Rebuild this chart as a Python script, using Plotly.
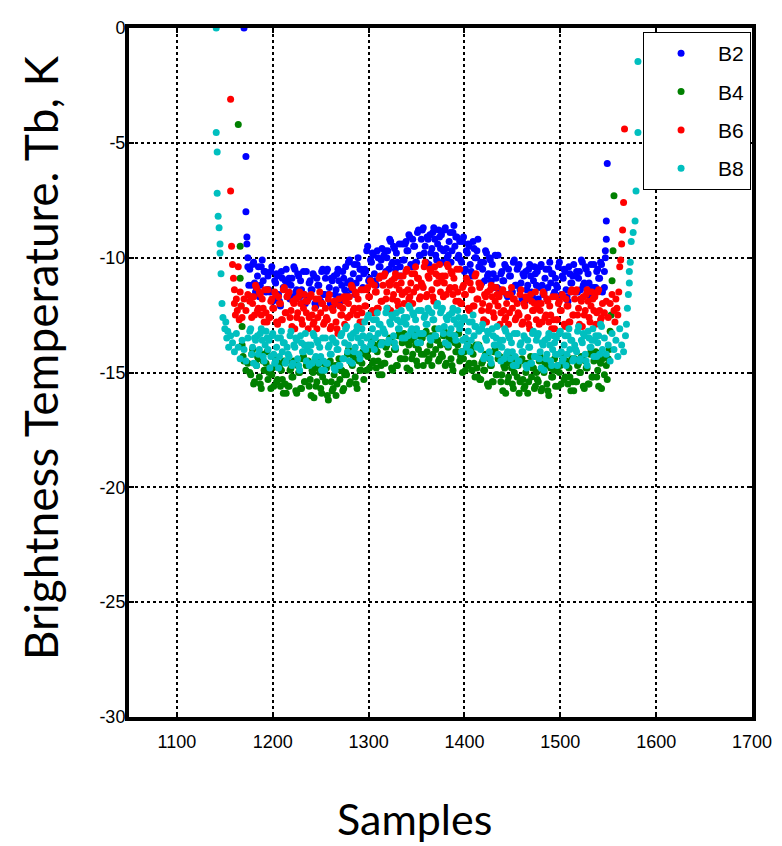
import plotly.graph_objects as go

# ---------------- data ----------------
samples_even = list(range(1176, 1545, 2))  # sample numbers 1176..1544
samples_odd = list(range(1177, 1544, 2))   # sample numbers 1177..1543

b2_even = [
    -10.5, -11.2, -10.2, -11.5, -10.8, -11.7, -10.4, -11.0, -10.6, -11.4,
    -11.4, -10.6, -11.9, -11.0, -10.7, -11.6, -12.1, -10.9, -11.3, -10.5,
    -11.1, -11.8, -10.9, -10.4, -11.5, -10.7, -11.7, -11.4, -10.6, -12.0,
    -11.8, -11.1, -11.4, -10.7, -12.0, -10.9, -11.2, -11.9, -10.5, -11.6,
    -10.6, -11.6, -12.0, -11.0, -10.8, -11.4, -10.5, -11.7, -11.2, -10.9,
    -10.4, -11.1, -10.1, -11.4, -10.7, -11.6, -10.3, -10.9, -10.5, -11.3,
    -10.5, -9.7, -11.0, -10.1, -9.8, -10.7, -11.2, -10.0, -10.4, -9.6,
    -9.9, -10.6, -9.7, -9.2, -10.3, -9.5, -10.5, -10.2, -9.4, -10.8,
    -10.1, -9.4, -9.7, -9.0, -10.3, -9.2, -9.5, -10.2, -8.8, -9.9,
    -8.8, -9.8, -10.2, -9.2, -9.0, -9.6, -8.7, -9.9, -9.4, -9.1,
    -9.0, -9.7, -8.7, -10.0, -9.3, -10.2, -8.9, -9.5, -9.1, -9.9,
    -10.1, -9.3, -10.6, -9.7, -9.4, -10.3, -10.8, -9.6, -10.0, -9.2,
    -10.4, -11.1, -10.2, -9.7, -10.8, -10.0, -11.0, -10.7, -9.9, -11.3,
    -11.4, -10.7, -11.0, -10.3, -11.6, -10.5, -10.8, -11.5, -10.1, -11.2,
    -10.4, -11.4, -11.8, -10.8, -10.6, -11.2, -10.3, -11.5, -11.0, -10.7,
    -10.6, -11.3, -10.3, -11.6, -10.9, -11.8, -10.5, -11.1, -10.7, -11.5,
    -11.2, -10.4, -11.7, -10.8, -10.5, -11.4, -11.9, -10.7, -11.1, -10.3,
    -10.8, -11.5, -10.6, -10.1, -11.2, -10.4, -11.4, -11.1, -10.3, -11.7,
    -11.3, -10.6, -10.9, -10.2, -11.5,
]
b2_odd = [
    -11.7, -10.3, -11.1, -11.4, -10.4, -11.2, -10.1, -10.6, -11.5, -10.8,
    -11.5, -10.4, -11.8, -11.1, -10.8, -11.9, -10.6, -11.3, -11.0, -11.7,
    -10.9, -11.2, -11.7, -10.5, -11.4, -10.8, -11.0, -12.0, -11.6, -10.6,
    -11.8, -11.0, -11.4, -10.8, -12.1, -11.2, -11.9, -10.6, -11.6, -10.9,
    -10.5, -11.3, -10.9, -12.1, -11.6, -10.7, -11.0, -11.9, -10.6, -11.4,
    -11.6, -10.2, -11.0, -11.3, -10.3, -11.1, -10.0, -10.5, -11.4, -10.7,
    -10.6, -9.5, -10.9, -10.2, -9.9, -11.0, -9.7, -10.4, -10.1, -10.8,
    -9.7, -10.0, -10.5, -9.3, -10.2, -9.6, -9.8, -10.8, -10.4, -9.4,
    -10.1, -9.3, -9.7, -9.1, -10.4, -9.5, -10.2, -8.9, -9.9, -9.2,
    -8.7, -9.5, -9.1, -10.3, -9.8, -8.9, -9.2, -10.1, -8.8, -9.6,
    -10.2, -8.8, -9.6, -9.9, -8.9, -9.7, -8.6, -9.1, -10.0, -9.3,
    -10.2, -9.1, -10.5, -9.8, -9.5, -10.6, -9.3, -10.0, -9.7, -10.4,
    -10.2, -10.5, -11.0, -9.8, -10.7, -10.1, -10.3, -11.3, -10.9, -9.9,
    -11.4, -10.6, -11.0, -10.4, -11.7, -10.8, -11.5, -10.2, -11.2, -10.5,
    -10.3, -11.1, -10.7, -11.9, -11.4, -10.5, -10.8, -11.7, -10.4, -11.2,
    -11.8, -10.4, -11.2, -11.5, -10.5, -11.3, -10.2, -10.7, -11.6, -10.9,
    -11.3, -10.2, -11.6, -10.9, -10.6, -11.7, -10.4, -11.1, -10.8, -11.5,
    -10.6, -10.9, -11.4, -10.2, -11.1, -10.5, -10.7, -11.7, -11.3, -10.3,
    -11.3, -10.5, -10.9, -10.3,
]
b2_edge_x = [1170, 1172, 1172, 1173, 1173, 1174, 1174, 1175,
             1546, 1546, 1547, 1547, 1548, 1548, 1549]
b2_edge_y = [0.0, -5.6, -8.0, -9.1, -9.4, -10.0, -10.4, -11.2,
             -11.3, -10.6, -10.0, -9.7, -9.2, -8.4, -5.9]

b4_even = [
    -15.0, -14.2, -15.5, -14.6, -14.3, -15.2, -15.7, -14.5, -14.9, -14.1,
    -15.0, -15.7, -14.8, -14.3, -15.4, -14.6, -15.6, -15.3, -14.5, -15.9,
    -15.6, -14.9, -15.2, -14.5, -15.8, -14.7, -15.0, -15.7, -14.3, -15.4,
    -14.6, -15.6, -16.0, -15.0, -14.8, -15.4, -14.5, -15.7, -15.2, -14.9,
    -14.8, -16.2, -14.5, -15.8, -15.1, -16.0, -14.7, -15.3, -14.9, -15.7,
    -15.0, -14.2, -15.5, -14.6, -14.3, -15.2, -15.7, -14.5, -14.9, -14.1,
    -14.2, -14.9, -14.0, -13.5, -14.6, -13.8, -14.8, -14.5, -13.7, -15.1,
    -14.6, -13.9, -14.2, -13.5, -14.8, -13.7, -14.0, -14.7, -13.3, -14.4,
    -13.4, -14.4, -14.8, -13.8, -13.6, -14.2, -13.3, -14.5, -14.0, -13.7,
    -13.5, -14.2, -13.2, -14.5, -13.8, -14.7, -13.4, -14.0, -13.6, -14.4,
    -14.2, -13.4, -14.7, -13.8, -13.5, -14.4, -14.9, -13.7, -14.1, -13.3,
    -14.3, -15.0, -14.1, -13.6, -14.7, -13.9, -14.9, -14.6, -13.8, -15.2,
    -15.3, -14.6, -14.9, -14.2, -15.5, -14.4, -14.7, -15.4, -14.0, -15.1,
    -14.4, -15.4, -15.8, -14.8, -14.6, -15.2, -14.3, -15.5, -15.0, -14.7,
    -14.7, -15.4, -14.4, -15.7, -15.0, -15.9, -14.6, -15.2, -14.8, -15.6,
    -15.3, -14.5, -15.8, -14.9, -14.6, -15.5, -16.0, -14.8, -15.2, -14.4,
    -14.9, -15.6, -14.7, -14.2, -15.3, -14.5, -15.5, -15.2, -14.4, -15.8,
    -15.4, -14.7, -15.0, -14.3, -15.6, -14.5, -14.8, -15.5, -14.1, -15.2,
    -14.2, -15.2, -15.6, -14.6, -14.4,
]
b4_odd = [
    -15.1, -14.0, -15.4, -14.7, -14.4, -15.5, -14.2, -14.9, -14.6, -15.3,
    -14.8, -15.1, -15.6, -14.4, -15.3, -14.7, -14.9, -15.9, -15.5, -14.5,
    -15.6, -14.8, -15.2, -14.6, -15.9, -15.0, -15.7, -14.4, -15.4, -14.7,
    -14.5, -15.3, -14.9, -16.1, -15.6, -14.7, -15.0, -15.9, -14.6, -15.4,
    -16.0, -14.6, -15.4, -15.7, -14.7, -15.5, -14.4, -14.9, -15.8, -15.1,
    -15.1, -14.0, -15.4, -14.7, -14.4, -15.5, -14.2, -14.9, -14.6, -15.3,
    -14.0, -14.3, -14.8, -13.6, -14.5, -13.9, -14.1, -15.1, -14.7, -13.7,
    -14.6, -13.8, -14.2, -13.6, -14.9, -14.0, -14.7, -13.4, -14.4, -13.7,
    -13.3, -14.1, -13.7, -14.9, -14.4, -13.5, -13.8, -14.7, -13.4, -14.2,
    -14.7, -13.3, -14.1, -14.4, -13.4, -14.2, -13.1, -13.6, -14.5, -13.8,
    -14.3, -13.2, -14.6, -13.9, -13.6, -14.7, -13.4, -14.1, -13.8, -14.5,
    -14.1, -14.4, -14.9, -13.7, -14.6, -14.0, -14.2, -15.2, -14.8, -13.8,
    -15.3, -14.5, -14.9, -14.3, -15.6, -14.7, -15.4, -14.1, -15.1, -14.4,
    -14.3, -15.1, -14.7, -15.9, -15.4, -14.5, -14.8, -15.7, -14.4, -15.2,
    -15.9, -14.5, -15.3, -15.6, -14.6, -15.4, -14.3, -14.8, -15.7, -15.0,
    -15.4, -14.3, -15.7, -15.0, -14.7, -15.8, -14.5, -15.2, -14.9, -15.6,
    -14.7, -15.0, -15.5, -14.3, -15.2, -14.6, -14.8, -15.8, -15.4, -14.4,
    -15.4, -14.6, -15.0, -14.4, -15.7, -14.8, -15.5, -14.2, -15.2, -14.5,
    -14.1, -14.9, -14.5, -15.7,
]
b4_edge_x = [1164, 1166, 1166, 1167, 1168, 1168, 1169, 1170, 1172, 1174,
             1546, 1548, 1549, 1550, 1551, 1552, 1553, 1554, 1555, 1556]
b4_edge_y = [-4.2, -9.5, -10.9, -12.1, -13.0, -13.8, -14.3, -14.5, -14.9, -14.6,
             -15.1, -14.7, -15.3, -14.4, -14.0, -13.2, -12.5, -11.0, -9.7, -7.3]

b6_even = [
    -11.9, -12.6, -11.7, -11.2, -12.3, -11.5, -12.5, -12.2, -11.4, -12.8,
    -12.6, -11.9, -12.2, -11.5, -12.8, -11.7, -12.0, -12.7, -11.3, -12.4,
    -11.6, -12.6, -13.0, -12.0, -11.8, -12.4, -11.5, -12.7, -12.2, -11.9,
    -11.9, -12.6, -11.6, -12.9, -12.2, -13.1, -11.8, -12.4, -12.0, -12.8,
    -12.6, -11.8, -13.1, -12.2, -11.9, -12.8, -13.3, -12.1, -12.5, -11.7,
    -11.9, -12.6, -11.7, -11.2, -12.3, -11.5, -12.5, -12.2, -11.4, -12.8,
    -12.1, -11.4, -11.7, -11.0, -12.3, -11.2, -11.5, -12.2, -10.8, -11.9,
    -10.8, -11.8, -12.2, -11.2, -11.0, -11.6, -10.7, -11.9, -11.4, -11.1,
    -10.8, -11.5, -10.5, -11.8, -11.1, -12.0, -10.7, -11.3, -10.9, -11.7,
    -11.2, -10.4, -11.7, -10.8, -10.5, -11.4, -11.9, -10.7, -11.1, -10.3,
    -11.0, -11.7, -10.8, -10.3, -11.4, -10.6, -11.6, -11.3, -10.5, -11.9,
    -12.0, -11.3, -11.6, -10.9, -12.2, -11.1, -11.4, -12.1, -10.7, -11.8,
    -11.3, -12.3, -12.7, -11.7, -11.5, -12.1, -11.2, -12.4, -11.9, -11.6,
    -11.7, -12.4, -11.4, -12.7, -12.0, -12.9, -11.6, -12.2, -11.8, -12.6,
    -12.4, -11.6, -12.9, -12.0, -11.7, -12.6, -13.1, -11.9, -12.3, -11.5,
    -12.2, -12.9, -12.0, -11.5, -12.6, -11.8, -12.8, -12.5, -11.7, -13.1,
    -12.7, -12.0, -12.3, -11.6, -12.9, -11.8, -12.1, -12.8, -11.4, -12.5,
    -11.5, -12.5, -12.9, -11.9, -11.7, -12.3, -11.4, -12.6, -12.1, -11.8,
    -11.7, -12.4, -11.4, -12.7, -12.0,
]
b6_odd = [
    -11.7, -12.0, -12.5, -11.3, -12.2, -11.6, -11.8, -12.8, -12.4, -11.4,
    -12.6, -11.8, -12.2, -11.6, -12.9, -12.0, -12.7, -11.4, -12.4, -11.7,
    -11.5, -12.3, -11.9, -13.1, -12.6, -11.7, -12.0, -12.9, -11.6, -12.4,
    -13.1, -11.7, -12.5, -12.8, -11.8, -12.6, -11.5, -12.0, -12.9, -12.2,
    -12.7, -11.6, -13.0, -12.3, -12.0, -13.1, -11.8, -12.5, -12.2, -12.9,
    -11.7, -12.0, -12.5, -11.3, -12.2, -11.6, -11.8, -12.8, -12.4, -11.4,
    -12.1, -11.3, -11.7, -11.1, -12.4, -11.5, -12.2, -10.9, -11.9, -11.2,
    -10.7, -11.5, -11.1, -12.3, -11.8, -10.9, -11.2, -12.1, -10.8, -11.6,
    -12.0, -10.6, -11.4, -11.7, -10.7, -11.5, -10.4, -10.9, -11.8, -11.1,
    -11.3, -10.2, -11.6, -10.9, -10.6, -11.7, -10.4, -11.1, -10.8, -11.5,
    -10.8, -11.1, -11.6, -10.4, -11.3, -10.7, -10.9, -11.9, -11.5, -10.5,
    -12.0, -11.2, -11.6, -11.0, -12.3, -11.4, -12.1, -10.8, -11.8, -11.1,
    -11.2, -12.0, -11.6, -12.8, -12.3, -11.4, -11.7, -12.6, -11.3, -12.1,
    -12.9, -11.5, -12.3, -12.6, -11.6, -12.4, -11.3, -11.8, -12.7, -12.0,
    -12.5, -11.4, -12.8, -12.1, -11.8, -12.9, -11.6, -12.3, -12.0, -12.7,
    -12.0, -12.3, -12.8, -11.6, -12.5, -11.9, -12.1, -13.1, -12.7, -11.7,
    -12.7, -11.9, -12.3, -11.7, -13.0, -12.1, -12.8, -11.5, -12.5, -11.8,
    -11.4, -12.2, -11.8, -13.0, -12.5, -11.6, -11.9, -12.8, -11.5, -12.3,
    -12.9, -11.5, -12.3, -12.6,
]
b6_edge_x = [1156, 1156, 1157, 1158, 1159, 1160, 1160, 1161, 1162, 1163,
             1164, 1165, 1166, 1167, 1168, 1170, 1172, 1174,
             1546, 1548, 1550, 1552, 1554, 1556, 1557, 1558, 1559, 1560,
             1561, 1562, 1563, 1564, 1565, 1566, 1567]
b6_edge_y = [-3.1, -7.1, -9.5, -10.3, -10.9, -11.4, -12.0, -12.5, -11.8, -12.3,
             -10.4, -12.7, -11.5, -12.1, -12.6, -11.8, -12.3, -11.6,
             -12.4, -11.9, -12.6, -12.0, -11.6, -12.3, -12.8, -11.8, -12.2, -12.5,
             -11.5, -10.4, -10.1, -9.4, -8.8, -7.6, -4.4]

b8_even = [
    -13.2, -14.2, -14.6, -13.6, -13.4, -14.0, -13.1, -14.3, -13.8, -13.5,
    -13.6, -14.3, -13.3, -14.6, -13.9, -14.8, -13.5, -14.1, -13.7, -14.5,
    -14.2, -13.4, -14.7, -13.8, -13.5, -14.4, -14.9, -13.7, -14.1, -13.3,
    -14.0, -14.7, -13.8, -13.3, -14.4, -13.6, -14.6, -14.3, -13.5, -14.9,
    -14.6, -13.9, -14.2, -13.5, -14.8, -13.7, -14.0, -14.7, -13.3, -14.4,
    -13.1, -14.1, -14.5, -13.5, -13.3, -13.9, -13.0, -14.2, -13.7, -13.4,
    -12.8, -13.5, -12.5, -13.8, -13.1, -14.0, -12.7, -13.3, -12.9, -13.7,
    -13.2, -12.4, -13.7, -12.8, -12.5, -13.4, -13.9, -12.7, -13.1, -12.3,
    -12.8, -13.5, -12.6, -12.1, -13.2, -12.4, -13.4, -13.1, -12.3, -13.7,
    -13.3, -12.6, -12.9, -12.2, -13.5, -12.4, -12.7, -13.4, -12.0, -13.1,
    -12.3, -13.3, -13.7, -12.7, -12.5, -13.1, -12.2, -13.4, -12.9, -12.6,
    -12.9, -13.6, -12.6, -13.9, -13.2, -14.1, -12.8, -13.4, -13.0, -13.8,
    -13.9, -13.1, -14.4, -13.5, -13.2, -14.1, -14.6, -13.4, -13.8, -13.0,
    -13.8, -14.5, -13.6, -13.1, -14.2, -13.4, -14.4, -14.1, -13.3, -14.7,
    -14.5, -13.8, -14.1, -13.4, -14.7, -13.6, -13.9, -14.6, -13.2, -14.3,
    -13.4, -14.4, -14.8, -13.8, -13.6, -14.2, -13.3, -14.5, -14.0, -13.7,
    -13.5, -14.2, -13.2, -14.5, -13.8, -14.7, -13.4, -14.0, -13.6, -14.4,
    -14.0, -13.2, -14.5, -13.6, -13.3, -14.2, -14.7, -13.5, -13.9, -13.1,
    -13.6, -14.3, -13.4, -12.9, -14.0,
]
b8_odd = [
    -13.1, -13.9, -13.5, -14.7, -14.2, -13.3, -13.6, -14.5, -13.2, -14.0,
    -14.8, -13.4, -14.2, -14.5, -13.5, -14.3, -13.2, -13.7, -14.6, -13.9,
    -14.3, -13.2, -14.6, -13.9, -13.6, -14.7, -13.4, -14.1, -13.8, -14.5,
    -13.8, -14.1, -14.6, -13.4, -14.3, -13.7, -13.9, -14.9, -14.5, -13.5,
    -14.6, -13.8, -14.2, -13.6, -14.9, -14.0, -14.7, -13.4, -14.4, -13.7,
    -13.0, -13.8, -13.4, -14.6, -14.1, -13.2, -13.5, -14.4, -13.1, -13.9,
    -14.0, -12.6, -13.4, -13.7, -12.7, -13.5, -12.4, -12.9, -13.8, -13.1,
    -13.3, -12.2, -13.6, -12.9, -12.6, -13.7, -12.4, -13.1, -12.8, -13.5,
    -12.6, -12.9, -13.4, -12.2, -13.1, -12.5, -12.7, -13.7, -13.3, -12.3,
    -13.3, -12.5, -12.9, -12.3, -13.6, -12.7, -13.4, -12.1, -13.1, -12.4,
    -12.2, -13.0, -12.6, -13.8, -13.3, -12.4, -12.7, -13.6, -12.3, -13.1,
    -14.1, -12.7, -13.5, -13.8, -12.8, -13.6, -12.5, -13.0, -13.9, -13.2,
    -14.0, -12.9, -14.3, -13.6, -13.3, -14.4, -13.1, -13.8, -13.5, -14.2,
    -13.6, -13.9, -14.4, -13.2, -14.1, -13.5, -13.7, -14.7, -14.3, -13.3,
    -14.5, -13.7, -14.1, -13.5, -14.8, -13.9, -14.6, -13.3, -14.3, -13.6,
    -13.3, -14.1, -13.7, -14.9, -14.4, -13.5, -13.8, -14.7, -13.4, -14.2,
    -14.7, -13.3, -14.1, -14.4, -13.4, -14.2, -13.1, -13.6, -14.5, -13.8,
    -14.1, -13.0, -14.4, -13.7, -13.4, -14.5, -13.2, -13.9, -13.6, -14.3,
    -13.4, -13.7, -14.2, -13.0,
]
b8_edge_x = [1141, 1141, 1142, 1142, 1143, 1144, 1145, 1145, 1146, 1147,
             1148, 1150, 1151, 1152, 1153, 1154, 1156, 1158, 1160, 1162,
             1164, 1166, 1168, 1170, 1172, 1174,
             1546, 1548, 1550, 1552, 1554, 1556, 1558, 1560, 1562, 1564,
             1566, 1568, 1569, 1570, 1571, 1572, 1572, 1573, 1574, 1576,
             1578, 1579, 1581, 1581]
b8_edge_y = [0.0, -4.55, -5.4, -7.2, -8.2, -8.7, -9.4, -9.8, -10.7, -12.0,
             -12.6, -13.1, -12.8, -13.5, -13.2, -13.9, -13.4, -13.7, -14.1, -13.3,
             -13.9, -14.4, -13.6, -14.0, -14.5, -13.5,
             -13.5, -14.2, -13.8, -14.5, -13.3, -14.0, -13.6, -14.3, -13.1, -13.8,
             -14.1, -13.4, -12.9, -12.2, -11.6, -11.1, -10.6, -10.2, -9.3, -8.9,
             -8.4, -7.1, -4.55, -1.46]

series_names = ["B2", "B4", "B6", "B8"]
series_colors = ["#0000FF", "#008000", "#FF0000", "#00BFBF"]
series_even = [b2_even, b4_even, b6_even, b8_even]
series_odd = [b2_odd, b4_odd, b6_odd, b8_odd]
series_edge_x = [b2_edge_x, b4_edge_x, b6_edge_x, b8_edge_x]
series_edge_y = [b2_edge_y, b4_edge_y, b6_edge_y, b8_edge_y]

x_ticks = [1100, 1200, 1300, 1400, 1500, 1600, 1700]
y_ticks = [-30, -25, -20, -15, -10, -5, 0]
y_tick_text = ["-30", "-25", "-20", "-15", "-10", "-5", "0"]

# ---------------- figure ----------------
TICK_FONT = "Liberation Sans Narrow, Arial Narrow, Liberation Sans, Arial, sans-serif"
TITLE_FONT = "Lato, Carlito, Calibri, sans-serif"

fig = go.Figure()
for name, color, ev, od, ex, ey in zip(series_names, series_colors, series_even,
                                       series_odd, series_edge_x, series_edge_y):
    fig.add_trace(go.Scatter(
        x=samples_even + samples_odd + ex,
        y=ev + od + ey,
        mode="markers",
        name=name,
        legendgroup=name,
        marker=dict(color=color, size=7, symbol="circle", line=dict(width=0)),
    ))

axis_common = dict(
    showline=True, linecolor="black", linewidth=4, mirror="ticks",
    ticks="inside", ticklen=5, tickwidth=2, tickcolor="black",
    showgrid=True, gridcolor="black", gridwidth=2, griddash="dot",
    zeroline=False,
    tickfont=dict(family=TICK_FONT, size=18, color="black"),
)

# the page body has an 8px default margin, so the figure is offset by it
fig.update_layout(
    width=774, height=838, autosize=False,
    margin=dict(l=121, r=27, t=10, b=129),
    paper_bgcolor="white", plot_bgcolor="white",
    xaxis=dict(range=[1050, 1700], tickvals=x_ticks, ticklabelstandoff=5,
               **axis_common),
    yaxis=dict(range=[-30, 0], tickvals=y_ticks, ticktext=y_tick_text,
               ticklabelstandoff=-4, **axis_common),
    showlegend=True,
    legend=dict(
        x=0.9985, y=0.994, xanchor="right", yanchor="top",
        bgcolor="white", bordercolor="black", borderwidth=1,
        font=dict(family=TICK_FONT, size=21, color="black"),
        itemwidth=64, tracegroupgap=8,
    ),
    annotations=[
        dict(text="Samples", xref="paper", yref="paper", x=0.4585, y=-0.147,
             xanchor="center", yanchor="middle", showarrow=False,
             font=dict(family=TITLE_FONT, size=43, color="black")),
        dict(text="Brightness Temperature. Tb, K", xref="paper", yref="paper",
             x=-0.143, y=0.522, xanchor="center", yanchor="middle",
             textangle=-90, showarrow=False,
             font=dict(family=TITLE_FONT, size=46, color="black")),
    ],
)

fig.write_html("out.html")
